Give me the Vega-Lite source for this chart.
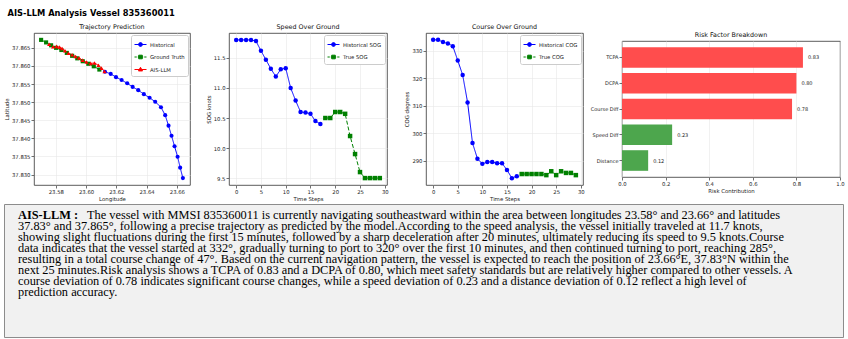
{
  "$schema": "https://vega.github.io/schema/vega-lite/v6.json",
  "background": "white",
  "padding": {"left": 3, "top": 8, "right": 2, "bottom": 2},
  "title": {"text": "AIS-LLM Analysis Vessel 835360011", "anchor": "start", "fontSize": 8.3, "font": "DejaVu Sans", "fontWeight": "bold", "offset": 6, "dx": 4, "color": "#000"},
  "datasets": {
    "traj": [
      {"series": "Historical", "i": 0, "lon": 23.6125, "lat": 37.8584},
      {"series": "Historical", "i": 1, "lon": 23.6163, "lat": 37.8578},
      {"series": "Historical", "i": 2, "lon": 23.6198, "lat": 37.8569},
      {"series": "Historical", "i": 3, "lon": 23.6235, "lat": 37.8561},
      {"series": "Historical", "i": 4, "lon": 23.6272, "lat": 37.8552},
      {"series": "Historical", "i": 5, "lon": 23.6308, "lat": 37.8542},
      {"series": "Historical", "i": 6, "lon": 23.6345, "lat": 37.8533},
      {"series": "Historical", "i": 7, "lon": 23.6382, "lat": 37.8522},
      {"series": "Historical", "i": 8, "lon": 23.6420, "lat": 37.8512},
      {"series": "Historical", "i": 9, "lon": 23.6457, "lat": 37.8501},
      {"series": "Historical", "i": 10, "lon": 23.6495, "lat": 37.8486},
      {"series": "Historical", "i": 11, "lon": 23.6523, "lat": 37.8464},
      {"series": "Historical", "i": 12, "lon": 23.6545, "lat": 37.8435},
      {"series": "Historical", "i": 13, "lon": 23.6565, "lat": 37.8407},
      {"series": "Historical", "i": 14, "lon": 23.6585, "lat": 37.8378},
      {"series": "Historical", "i": 15, "lon": 23.6605, "lat": 37.8349},
      {"series": "Historical", "i": 16, "lon": 23.6622, "lat": 37.8319},
      {"series": "Historical", "i": 17, "lon": 23.6640, "lat": 37.8290},
      {"series": "Ground Truth", "i": 0, "lon": 23.5703, "lat": 37.8672},
      {"series": "Ground Truth", "i": 1, "lon": 23.5736, "lat": 37.8665},
      {"series": "Ground Truth", "i": 2, "lon": 23.5769, "lat": 37.8657},
      {"series": "Ground Truth", "i": 3, "lon": 23.5802, "lat": 37.8650},
      {"series": "Ground Truth", "i": 4, "lon": 23.5837, "lat": 37.8644},
      {"series": "Ground Truth", "i": 5, "lon": 23.5873, "lat": 37.8636},
      {"series": "Ground Truth", "i": 6, "lon": 23.5908, "lat": 37.8628},
      {"series": "Ground Truth", "i": 7, "lon": 23.5942, "lat": 37.8621},
      {"series": "Ground Truth", "i": 8, "lon": 23.5978, "lat": 37.8613},
      {"series": "Ground Truth", "i": 9, "lon": 23.6015, "lat": 37.8606},
      {"series": "Ground Truth", "i": 10, "lon": 23.6051, "lat": 37.8599},
      {"series": "Ground Truth", "i": 11, "lon": 23.6088, "lat": 37.8590},
      {"series": "AIS-LLM", "i": 0, "lon": 23.5756, "lat": 37.8660},
      {"series": "AIS-LLM", "i": 1, "lon": 23.5782, "lat": 37.8653},
      {"series": "AIS-LLM", "i": 2, "lon": 23.5805, "lat": 37.8654},
      {"series": "AIS-LLM", "i": 3, "lon": 23.5825, "lat": 37.8652},
      {"series": "AIS-LLM", "i": 4, "lon": 23.5842, "lat": 37.8648},
      {"series": "AIS-LLM", "i": 5, "lon": 23.5861, "lat": 37.8642},
      {"series": "AIS-LLM", "i": 6, "lon": 23.5884, "lat": 37.8635},
      {"series": "AIS-LLM", "i": 7, "lon": 23.5908, "lat": 37.8631},
      {"series": "AIS-LLM", "i": 8, "lon": 23.5931, "lat": 37.8626},
      {"series": "AIS-LLM", "i": 9, "lon": 23.5954, "lat": 37.8622},
      {"series": "AIS-LLM", "i": 10, "lon": 23.5977, "lat": 37.8616},
      {"series": "AIS-LLM", "i": 11, "lon": 23.6003, "lat": 37.8611},
      {"series": "AIS-LLM", "i": 12, "lon": 23.6030, "lat": 37.8607},
      {"series": "AIS-LLM", "i": 13, "lon": 23.6056, "lat": 37.8608},
      {"series": "AIS-LLM", "i": 14, "lon": 23.6082, "lat": 37.8602},
      {"series": "AIS-LLM", "i": 15, "lon": 23.6102, "lat": 37.8594},
      {"series": "AIS-LLM", "i": 16, "lon": 23.6122, "lat": 37.8585}
    ],
    "sog": [
      {"series": "Historical SOG", "t": 0, "v": 11.8}, {"series": "Historical SOG", "t": 1, "v": 11.8},
      {"series": "Historical SOG", "t": 2, "v": 11.8}, {"series": "Historical SOG", "t": 3, "v": 11.8},
      {"series": "Historical SOG", "t": 4, "v": 11.78}, {"series": "Historical SOG", "t": 5, "v": 11.62},
      {"series": "Historical SOG", "t": 6, "v": 11.47}, {"series": "Historical SOG", "t": 7, "v": 11.32},
      {"series": "Historical SOG", "t": 8, "v": 11.19}, {"series": "Historical SOG", "t": 9, "v": 11.31},
      {"series": "Historical SOG", "t": 10, "v": 11.33}, {"series": "Historical SOG", "t": 11, "v": 11.0},
      {"series": "Historical SOG", "t": 12, "v": 10.79}, {"series": "Historical SOG", "t": 13, "v": 10.6},
      {"series": "Historical SOG", "t": 14, "v": 10.59}, {"series": "Historical SOG", "t": 15, "v": 10.57},
      {"series": "Historical SOG", "t": 16, "v": 10.45}, {"series": "Historical SOG", "t": 17, "v": 10.4},
      {"series": "True SOG", "t": 18, "v": 10.5}, {"series": "True SOG", "t": 19, "v": 10.5},
      {"series": "True SOG", "t": 20, "v": 10.6}, {"series": "True SOG", "t": 21, "v": 10.6},
      {"series": "True SOG", "t": 22, "v": 10.57}, {"series": "True SOG", "t": 23, "v": 10.2},
      {"series": "True SOG", "t": 24, "v": 9.9}, {"series": "True SOG", "t": 25, "v": 9.6},
      {"series": "True SOG", "t": 26, "v": 9.5}, {"series": "True SOG", "t": 27, "v": 9.5},
      {"series": "True SOG", "t": 28, "v": 9.5}, {"series": "True SOG", "t": 29, "v": 9.5}
    ],
    "cog": [
      {"series": "Historical COG", "t": 0, "v": 334.0}, {"series": "Historical COG", "t": 1, "v": 334.0},
      {"series": "Historical COG", "t": 2, "v": 333.2}, {"series": "Historical COG", "t": 3, "v": 332.7},
      {"series": "Historical COG", "t": 4, "v": 331.7}, {"series": "Historical COG", "t": 5, "v": 326.5},
      {"series": "Historical COG", "t": 6, "v": 321.2}, {"series": "Historical COG", "t": 7, "v": 311.2},
      {"series": "Historical COG", "t": 8, "v": 296.4}, {"series": "Historical COG", "t": 9, "v": 290.7},
      {"series": "Historical COG", "t": 10, "v": 288.8}, {"series": "Historical COG", "t": 11, "v": 289.5},
      {"series": "Historical COG", "t": 12, "v": 289.5}, {"series": "Historical COG", "t": 13, "v": 289.0},
      {"series": "Historical COG", "t": 14, "v": 289.0}, {"series": "Historical COG", "t": 15, "v": 286.6},
      {"series": "Historical COG", "t": 16, "v": 283.6}, {"series": "Historical COG", "t": 17, "v": 284.3},
      {"series": "True COG", "t": 18, "v": 285.1}, {"series": "True COG", "t": 19, "v": 285.1},
      {"series": "True COG", "t": 20, "v": 285.1}, {"series": "True COG", "t": 21, "v": 285.1},
      {"series": "True COG", "t": 22, "v": 285.1}, {"series": "True COG", "t": 23, "v": 284.7},
      {"series": "True COG", "t": 24, "v": 286.1}, {"series": "True COG", "t": 25, "v": 284.7},
      {"series": "True COG", "t": 26, "v": 286.1}, {"series": "True COG", "t": 27, "v": 285.5},
      {"series": "True COG", "t": 28, "v": 285.5}, {"series": "True COG", "t": 29, "v": 284.7}
    ],
    "risk": [
      {"factor": "TCPA", "value": 0.83, "level": "high"},
      {"factor": "DCPA", "value": 0.80, "level": "high"},
      {"factor": "Course Diff", "value": 0.78, "level": "high"},
      {"factor": "Speed Diff", "value": 0.23, "level": "low"},
      {"factor": "Distance", "value": 0.12, "level": "low"}
    ],
    "desc": [
      {"line": 1, "part": "head", "text": "AIS-LLM :"},
      {"line": 1, "part": "first", "text": "The vessel with MMSI 835360011 is currently navigating southeastward within the area between longitudes 23.58° and 23.66° and latitudes"},
      {"line": 2, "part": "body", "text": "37.83° and 37.865°, following a precise trajectory as predicted by the model.According to the speed analysis, the vessel initially traveled at 11.7 knots,"},
      {"line": 3, "part": "body", "text": "showing slight fluctuations during the first 15 minutes, followed by a sharp deceleration after 20 minutes, ultimately reducing its speed to 9.5 knots.Course"},
      {"line": 4, "part": "body", "text": "data indicates that the vessel started at 332°, gradually turning to port to 320° over the first 10 minutes, and then continued turning to port, reaching 285°,"},
      {"line": 5, "part": "body", "text": "resulting in a total course change of 47°. Based on the current navigation pattern, the vessel is expected to reach the position of 23.66°E, 37.83°N within the"},
      {"line": 6, "part": "body", "text": "next 25 minutes.Risk analysis shows a TCPA of 0.83 and a DCPA of 0.80, which meet safety standards but are relatively higher compared to other vessels. A"},
      {"line": 7, "part": "body", "text": "course deviation of 0.78 indicates significant course changes, while a speed deviation of 0.23 and a distance deviation of 0.12 reflect a high level of"},
      {"line": 8, "part": "body", "text": "prediction accuracy."}
    ]
  },
  "spacing": 0,
  "vconcat": [
    {
      "spacing": -1,
      "hconcat": [
        {
          "width": 1, "height": 1,
          "view": {"stroke": null, "fill": null},
          "data": {"values": [{"k": 0}]},
          "mark": {"type": "text"},
          "encoding": {"text": {"value": ""}}
        },
        {
          "resolve": {
            "scale": {"x": "independent", "y": "independent", "color": "independent", "fill": "independent", "stroke": "independent", "shape": "independent", "strokeDash": "independent"},
            "axis": {"x": "independent", "y": "independent"},
            "legend": {"color": "independent", "fill": "independent", "stroke": "independent", "shape": "independent", "strokeDash": "independent"}
          },
          "hconcat": [
            {
              "width": 156, "height": 152,
              "title": "Trajectory Prediction",
              "data": {"name": "traj"},
              "encoding": {
                "x": {"field": "lon", "type": "quantitative", "scale": {"domain": [23.5656, 23.6687], "nice": false, "zero": false}, "axis": {"values": [23.58, 23.6, 23.62, 23.64, 23.66], "format": ".2f", "title": "Longitude", "labelOverlap": false}},
                "y": {"field": "lat", "type": "quantitative", "scale": {"domain": [37.8271, 37.8691], "nice": false, "zero": false}, "axis": {"values": [37.83, 37.835, 37.84, 37.845, 37.85, 37.855, 37.86, 37.865], "format": ".3f", "title": "Latitude", "labelOverlap": false}}
              },
              "layer": [
                {
                  "mark": {"type": "line", "strokeWidth": 1},
                  "encoding": {
                    "color": {"field": "series", "type": "nominal", "scale": {"domain": ["AIS-LLM", "Ground Truth", "Historical"], "range": ["#ff0000", "#008000", "#0000ff"]}, "legend": null},
                    "strokeDash": {"field": "series", "type": "nominal", "scale": {"domain": ["AIS-LLM", "Ground Truth", "Historical"], "range": [[1, 0], [4, 2], [1, 0]]}, "legend": null},
                    "order": {"field": "i", "type": "quantitative"}
                  }
                },
                {
                  "transform": [{"filter": "datum.series == 'Historical'"}],
                  "mark": {"type": "point", "filled": true, "size": 17, "opacity": 1, "shape": "circle", "color": "#0000ff"}
                },
                {
                  "transform": [{"filter": "datum.series == 'Ground Truth'"}],
                  "mark": {"type": "point", "filled": true, "size": 17, "opacity": 1, "shape": "square", "color": "#008000"}
                },
                {
                  "transform": [{"filter": "datum.series == 'AIS-LLM'"}],
                  "mark": {"type": "point", "filled": true, "size": 17, "opacity": 1, "shape": "triangle-up", "color": "#ff0000"}
                },
                {
                  "mark": {"type": "point", "filled": true, "size": 0, "opacity": 1, "strokeWidth": 1},
                  "encoding": {
                    "fill": {"field": "series", "type": "nominal", "scale": {"domain": ["Historical", "Ground Truth", "AIS-LLM"], "range": ["#0000ff", "#008000", "#ff0000"]}, "legend": {"orient": "top-right", "title": null}},
                    "stroke": {"field": "series", "type": "nominal", "scale": {"domain": ["Historical", "Ground Truth", "AIS-LLM"], "range": ["#0000ff", "#008000", "#ff0000"]}, "legend": {"orient": "top-right", "title": null}},
                    "shape": {"field": "series", "type": "nominal", "scale": {"domain": ["Historical", "Ground Truth", "AIS-LLM"], "range": ["M-1,0H1M-0.32,0A0.32,0.32 0 1,0 0.32,0A0.32,0.32 0 1,0 -0.32,0Z", "M-1,0H-0.62M-0.45,0H0.45M0.62,0H1M-0.3,-0.3H0.3V0.3H-0.3Z", "M-1,0H1M0,-0.36L0.34,0.24H-0.34Z"]}, "legend": {"orient": "top-right", "title": null}}
                  }
                }
              ]
            },
            {
              "width": 158, "height": 152,
              "title": "Speed Over Ground",
              "data": {"name": "sog"},
              "encoding": {
                "x": {"field": "t", "type": "quantitative", "scale": {"domain": [-1.45, 30.45], "nice": false, "zero": false}, "axis": {"values": [0, 5, 10, 15, 20, 25, 30], "title": "Time Steps", "labelOverlap": false}},
                "y": {"field": "v", "type": "quantitative", "scale": {"domain": [9.385, 11.915], "nice": false, "zero": false}, "axis": {"values": [9.5, 10, 10.5, 11, 11.5], "format": ".1f", "title": "SOG knots", "labelOverlap": false}}
              },
              "layer": [
                {
                  "mark": {"type": "line", "strokeWidth": 1},
                  "encoding": {
                    "color": {"field": "series", "type": "nominal", "scale": {"domain": ["True SOG", "Historical SOG"], "range": ["#008000", "#0000ff"]}, "legend": null},
                    "strokeDash": {"field": "series", "type": "nominal", "scale": {"domain": ["True SOG", "Historical SOG"], "range": [[4, 2], [1, 0]]}, "legend": null}
                  }
                },
                {
                  "transform": [{"filter": "datum.series == 'Historical SOG'"}],
                  "mark": {"type": "point", "filled": true, "size": 20, "opacity": 1, "shape": "circle", "color": "#0000ff"}
                },
                {
                  "transform": [{"filter": "datum.series == 'True SOG'"}],
                  "mark": {"type": "point", "filled": true, "size": 20, "opacity": 1, "shape": "square", "color": "#008000"}
                },
                {
                  "mark": {"type": "point", "filled": true, "size": 0, "opacity": 1, "strokeWidth": 1},
                  "encoding": {
                    "fill": {"field": "series", "type": "nominal", "scale": {"domain": ["Historical SOG", "True SOG"], "range": ["#0000ff", "#008000"]}, "legend": {"orient": "top-right", "title": null}},
                    "stroke": {"field": "series", "type": "nominal", "scale": {"domain": ["Historical SOG", "True SOG"], "range": ["#0000ff", "#008000"]}, "legend": {"orient": "top-right", "title": null}},
                    "shape": {"field": "series", "type": "nominal", "scale": {"domain": ["Historical SOG", "True SOG"], "range": ["M-1,0H1M-0.32,0A0.32,0.32 0 1,0 0.32,0A0.32,0.32 0 1,0 -0.32,0Z", "M-1,0H-0.62M-0.45,0H0.45M0.62,0H1M-0.3,-0.3H0.3V0.3H-0.3Z"]}, "legend": {"orient": "top-right", "title": null}}
                  }
                }
              ]
            },
            {
              "width": 157, "height": 152,
              "title": "Course Over Ground",
              "data": {"name": "cog"},
              "encoding": {
                "x": {"field": "t", "type": "quantitative", "scale": {"domain": [-1.45, 30.45], "nice": false, "zero": false}, "axis": {"values": [0, 5, 10, 15, 20, 25, 30], "title": "Time Steps", "labelOverlap": false}},
                "y": {"field": "v", "type": "quantitative", "scale": {"domain": [281.1, 336.5], "nice": false, "zero": false}, "axis": {"values": [290, 300, 310, 320, 330], "title": "COG degrees", "labelOverlap": false}}
              },
              "layer": [
                {
                  "mark": {"type": "line", "strokeWidth": 1},
                  "encoding": {
                    "color": {"field": "series", "type": "nominal", "scale": {"domain": ["True COG", "Historical COG"], "range": ["#008000", "#0000ff"]}, "legend": null},
                    "strokeDash": {"field": "series", "type": "nominal", "scale": {"domain": ["True COG", "Historical COG"], "range": [[4, 2], [1, 0]]}, "legend": null}
                  }
                },
                {
                  "transform": [{"filter": "datum.series == 'Historical COG'"}],
                  "mark": {"type": "point", "filled": true, "size": 20, "opacity": 1, "shape": "circle", "color": "#0000ff"}
                },
                {
                  "transform": [{"filter": "datum.series == 'True COG'"}],
                  "mark": {"type": "point", "filled": true, "size": 20, "opacity": 1, "shape": "square", "color": "#008000"}
                },
                {
                  "mark": {"type": "point", "filled": true, "size": 0, "opacity": 1, "strokeWidth": 1},
                  "encoding": {
                    "fill": {"field": "series", "type": "nominal", "scale": {"domain": ["Historical COG", "True COG"], "range": ["#0000ff", "#008000"]}, "legend": {"orient": "top-right", "title": null}},
                    "stroke": {"field": "series", "type": "nominal", "scale": {"domain": ["Historical COG", "True COG"], "range": ["#0000ff", "#008000"]}, "legend": {"orient": "top-right", "title": null}},
                    "shape": {"field": "series", "type": "nominal", "scale": {"domain": ["Historical COG", "True COG"], "range": ["M-1,0H1M-0.32,0A0.32,0.32 0 1,0 0.32,0A0.32,0.32 0 1,0 -0.32,0Z", "M-1,0H-0.62M-0.45,0H0.45M0.62,0H1M-0.3,-0.3H0.3V0.3H-0.3Z"]}, "legend": {"orient": "top-right", "title": null}}
                  }
                }
              ]
            },
            {
              "width": 218, "height": 136,
              "title": "Risk Factor Breakdown",
              "data": {"name": "risk"},
              "encoding": {
                "y": {"field": "factor", "type": "nominal", "sort": ["TCPA", "DCPA", "Course Diff", "Speed Diff", "Distance"], "scale": {"paddingInner": 0.2, "paddingOuter": 0.24}, "axis": {"title": null, "labelFontSize": 5, "grid": false}},
                "x": {"field": "value", "type": "quantitative", "scale": {"domain": [0, 1], "nice": false}, "axis": {"values": [0, 0.2, 0.4, 0.6, 0.8, 1.0], "format": ".1f", "title": "Risk Contribution", "grid": true, "labelOverlap": false}}
              },
              "layer": [
                {
                  "mark": {"type": "bar"},
                  "encoding": {
                    "color": {"field": "level", "type": "nominal", "scale": {"domain": ["high", "low"], "range": ["#ff4d4d", "#4da64d"]}, "legend": null}
                  }
                },
                {
                  "mark": {"type": "text", "align": "left", "baseline": "middle", "dx": 5, "fontSize": 5, "color": "#222"},
                  "encoding": {"text": {"field": "value", "type": "quantitative", "format": ".2f"}}
                }
              ]
            }
          ],
          "spacing": 39,
          "bounds": "flush",
          "center": true
        }
      ]
    },
    {
      "width": 839, "height": 133,
      "view": {"fill": "#f1f1f1", "stroke": "#8c8c8c", "strokeWidth": 1},
      "data": {"name": "desc"},
      "encoding": {
        "y": {"field": "line", "type": "quantitative", "scale": {"domain": [0, 12.09], "reverse": true, "nice": false, "zero": false}, "axis": null},
        "text": {"field": "text", "type": "nominal"}
      },
      "layer": [
        {
          "transform": [{"filter": "datum.part == 'head'"}],
          "mark": {"type": "text", "font": "Liberation Serif", "fontSize": 12.35, "fontWeight": "bold", "align": "left", "baseline": "middle", "color": "#000"},
          "encoding": {"x": {"value": 14}}
        },
        {
          "transform": [{"filter": "datum.part == 'first'"}],
          "mark": {"type": "text", "font": "Liberation Serif", "fontSize": 12.35, "align": "left", "baseline": "middle", "color": "#000"},
          "encoding": {"x": {"value": 83}}
        },
        {
          "transform": [{"filter": "datum.part == 'body'"}],
          "mark": {"type": "text", "font": "Liberation Serif", "fontSize": 12.35, "align": "left", "baseline": "middle", "color": "#000"},
          "encoding": {"x": {"value": 14}}
        }
      ]
    }
  ],
  "config": {
    "font": "DejaVu Sans",
    "view": {"stroke": "#333", "strokeWidth": 0.8},
    "axis": {"labelFontSize": 5.3, "titleFontSize": 5.4, "titleFontWeight": "normal", "labelColor": "#222", "titleColor": "#222", "tickColor": "#333", "tickSize": 3, "tickWidth": 0.7, "domain": false, "gridColor": "#e8e8e8", "gridWidth": 0.6, "labelPadding": 1, "titlePadding": 2, "labelOverlap": false, "labelFlush": false, "labelBound": false},
    "axisBand": {"grid": false},
    "title": {"fontSize": 6.4, "fontWeight": "normal", "offset": 3, "color": "#111"},
    "legend": {"labelFontSize": 5.3, "labelColor": "#222", "symbolSize": 144, "fillColor": "white", "strokeColor": "#cccccc", "padding": 3, "cornerRadius": 2, "rowPadding": 1.5, "labelOffset": 3, "offset": 2, "symbolStrokeWidth": 1}
  }
}
